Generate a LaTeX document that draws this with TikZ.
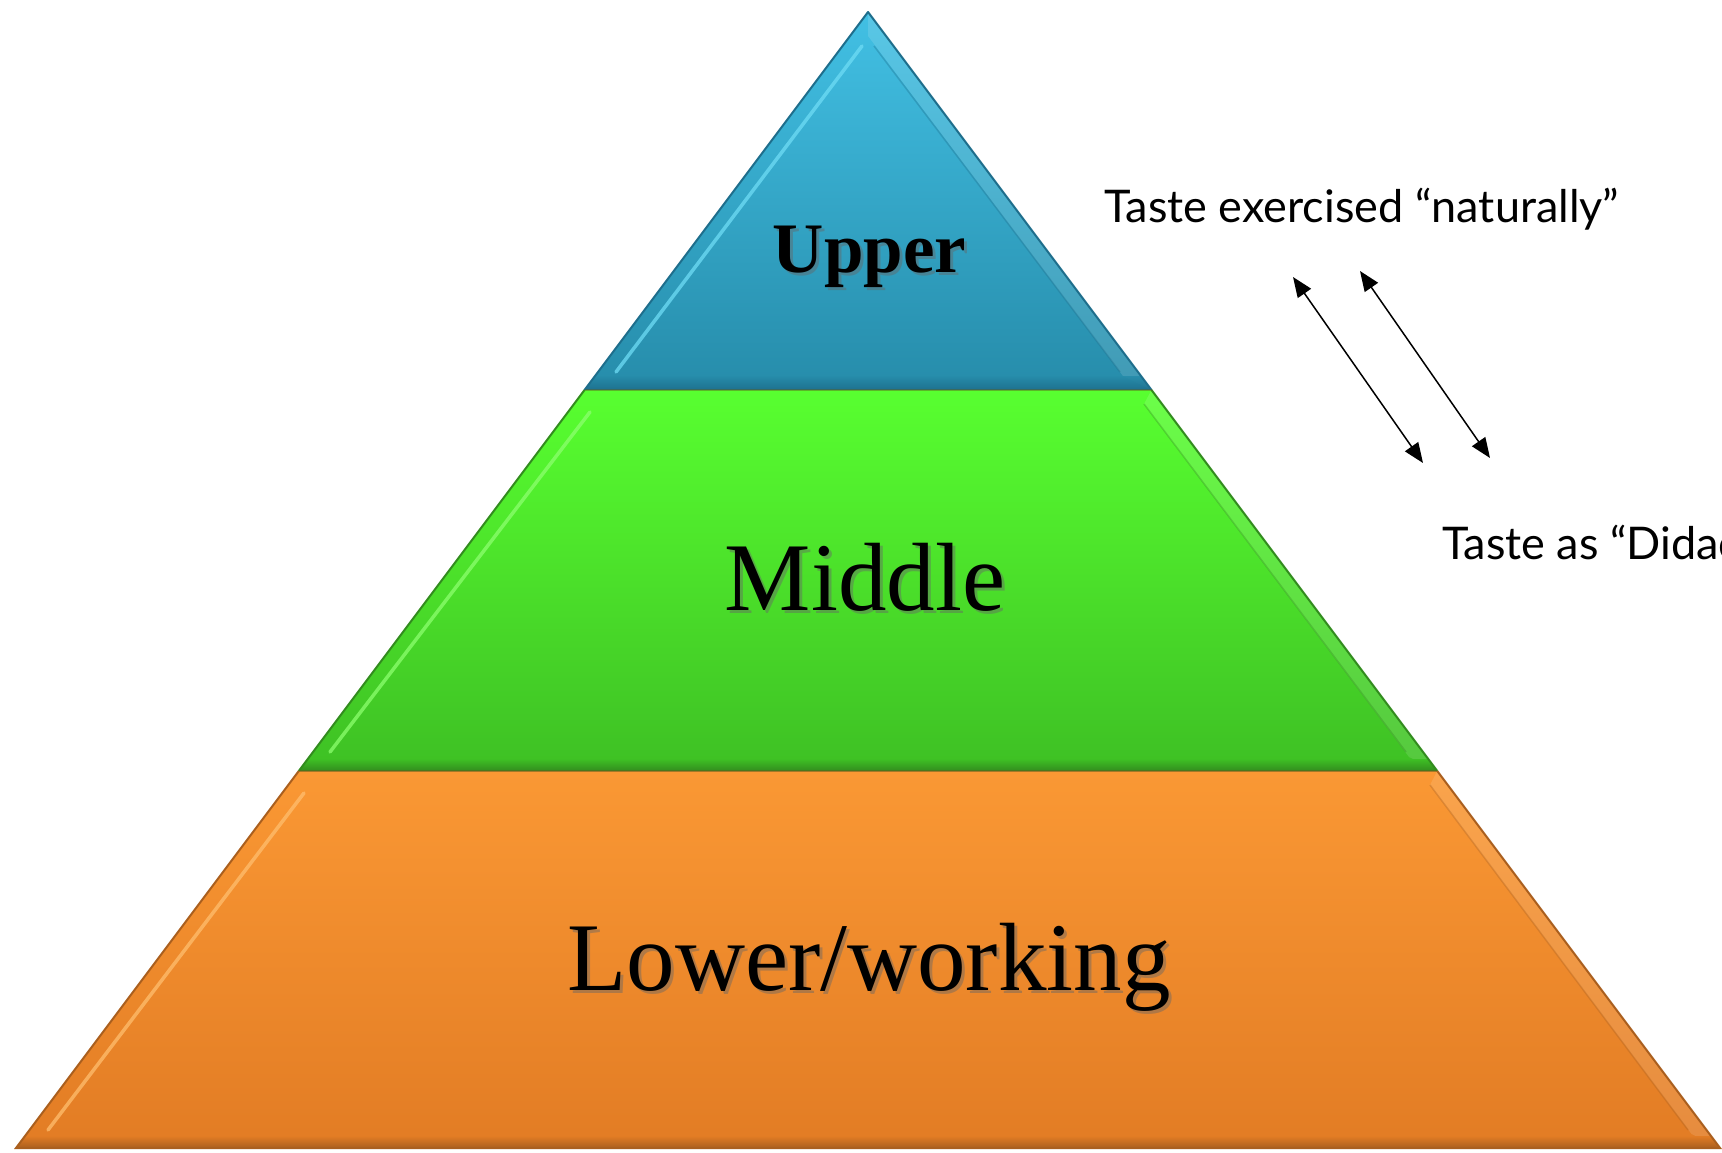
\documentclass[tikz,border=0pt]{standalone}
\usepackage{fontspec}
\usetikzlibrary{arrows.meta}
\newfontfamily\tierfont{Liberation Serif}
\newfontfamily\notefont{Lato}

% band colours
\definecolor{blueTop}{RGB}{66,192,228}
\definecolor{blueBot}{RGB}{38,140,170}
\definecolor{blueEdge}{RGB}{30,110,140}
\definecolor{blueHi}{RGB}{110,220,245}
\definecolor{greenTop}{RGB}{88,255,48}
\definecolor{greenBot}{RGB}{62,192,36}
\definecolor{greenEdge}{RGB}{50,140,30}
\definecolor{greenHi}{RGB}{140,255,110}
\definecolor{orangeTop}{RGB}{250,152,52}
\definecolor{orangeBot}{RGB}{226,124,36}
\definecolor{orangeEdge}{RGB}{170,95,30}
\definecolor{orangeHi}{RGB}{255,190,110}
\definecolor{seamDark}{RGB}{95,95,30}

\tikzset{
  tier/.style={font=\tierfont, text=black, inner sep=0pt, anchor=base},
  tiershadow/.style={tier, text=black!60, opacity=0.45},
  note/.style={font=\notefont\fontsize{45}{50}\selectfont, inner sep=0pt, anchor=base west},
  dbl/.style={{Triangle[length=20pt,width=16pt]}-{Triangle[length=20pt,width=16pt]}, line width=1.5pt, black},
  hiline/.style={line width=3.5pt, line cap=round, opacity=0.75},
}

\begin{document}
\begin{tikzpicture}[x=1pt,y=-1pt]
\useasboundingbox (0,0) rectangle (1722,1152);
\fill[white] (0,0) rectangle (1722,1152);
\clip (0,0) rectangle (1722,1152);

% ---------- upper tier ----------
\shade[top color=blueTop, bottom color=blueBot] (868,12) -- (1151.5,390) -- (584.5,390) -- cycle;
\fill[white,opacity=0.12] (868,12) -- (1151.5,390) -- (1123,376) -- (868,36) -- cycle;
\shade[top color=blueBot, bottom color=blueEdge, opacity=0.9] (595,376) -- (1141,376) -- (1151.5,390) -- (584.5,390) -- cycle;
\draw[blueHi, hiline] (862,46) -- (616,372);
\draw[blueEdge, opacity=0.35, line width=1.5pt] (874,46) -- (1120,372);
\draw[blueEdge, line width=2pt, line join=round] (584.5,390) -- (868,12) -- (1151.5,390);

% ---------- middle tier ----------
\shade[top color=greenTop, bottom color=greenBot] (584.5,390) -- (1151.5,390) -- (1437.25,771) -- (298.75,771) -- cycle;
\fill[white,opacity=0.12] (1151.5,390) -- (1437.25,771) -- (1409,757) -- (1144,404) -- cycle;
\shade[top color=greenBot, bottom color=greenEdge] (309,759) -- (1427,759) -- (1437.25,771) -- (298.75,771) -- cycle;
\draw[greenHi, hiline] (590,412) -- (330,752);
\draw[greenEdge, opacity=0.35, line width=1.5pt] (1144,404) -- (1406,752);
\draw[greenEdge, line width=2pt] (584.5,390) -- (298.75,771);
\draw[greenEdge, line width=2pt] (1151.5,390) -- (1437.25,771);

% ---------- lower tier ----------
\shade[top color=orangeTop, bottom color=orangeBot] (298.75,771) -- (1437.25,771) -- (1720,1148) -- (16,1148) -- cycle;
\fill[white,opacity=0.12] (1437.25,771) -- (1720,1148) -- (1691.5,1134) -- (1430,785) -- cycle;
\shade[top color=orangeBot, bottom color=orangeEdge] (25,1136) -- (1711,1136) -- (1720,1148) -- (16,1148) -- cycle;
\draw[orangeHi, hiline] (304,793) -- (48,1130);
\draw[orangeEdge, opacity=0.35, line width=1.5pt] (1430,785) -- (1688,1130);
\draw[orangeEdge, line width=2pt] (298.75,771) -- (16,1148) -- (1720,1148) -- (1437.25,771);

% seams between tiers
\draw[seamDark, opacity=0.45, line width=2pt] (584.5,390) -- (1151.5,390);
\draw[seamDark, opacity=0.55, line width=2pt] (298.75,771) -- (1437.25,771);

% ---------- tier labels ----------
\node[tiershadow, font=\tierfont\bfseries\fontsize{71}{80}\selectfont] (upperS) at (872.5,275) {Upper};
\node[tier, font=\tierfont\bfseries\fontsize{71}{80}\selectfont] (upper) at (869.5,272) {Upper};
\node[tiershadow, font=\tierfont\fontsize{97}{110}\selectfont] (middleS) at (868,613) {Middle};
\node[tier, font=\tierfont\fontsize{97}{110}\selectfont] (middle) at (865,610) {Middle};
\node[tiershadow, font=\tierfont\fontsize{97}{110}\selectfont] (lowerS) at (872,993) {Lower/working};
\node[tier, font=\tierfont\fontsize{97}{110}\selectfont] (lower) at (869,990) {Lower/working};

% ---------- notes and arrows ----------
\node[note] (natural) at (1104,222) {Taste exercised “naturally”};
\node[note] (didactic) at (1442,559) {Taste as “Didactic”};

\coordinate (a1top) at (1293,277);
\coordinate (a1bot) at (1423,463);
\coordinate (a2top) at (1360,271);
\coordinate (a2bot) at (1490,458);
\draw[dbl] (a1top) -- (a1bot);
\draw[dbl] (a2top) -- (a2bot);
\end{tikzpicture}
\end{document}
